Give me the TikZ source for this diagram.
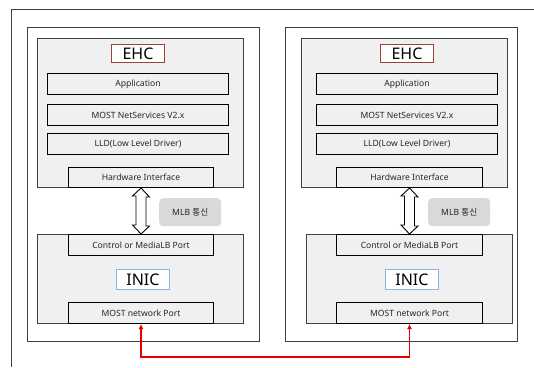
\documentclass[tikz,border=0pt]{standalone}
\usepackage{fontspec}
\setmainfont{Noto Sans}
\newfontfamily\krfont{Noto Sans CJK KR}
\usetikzlibrary{arrows.meta,calc}
\definecolor{boxgray}{HTML}{F0F0F0}
\definecolor{mlbgray}{HTML}{D9D9D9}
\definecolor{ehcred}{HTML}{A0403C}
\definecolor{inicblue}{HTML}{8DB3E2}
\definecolor{framegray}{HTML}{404040}
\tikzset{
  panel/.style={draw=framegray, line width=0.9pt, fill=white, anchor=north west, inner sep=0pt},
  chip/.style={draw=framegray, line width=0.8pt, fill=boxgray, anchor=north west, inner sep=0pt},
  layer/.style={draw=black, line width=1pt, fill=boxgray, anchor=north west, inner sep=0pt,
    font=\fontsize{8.6}{9}\selectfont, text=black!85},
  ehctitle/.style={draw=ehcred, line width=0.9pt, fill=white, anchor=north west, inner sep=0pt,
    font=\fontsize{16}{17}\selectfont},
  inictitle/.style={draw=inicblue, line width=0.9pt, fill=white, anchor=north west, inner sep=0pt,
    font=\fontsize{16}{17}\selectfont},
  mlb/.style={fill=mlbgray, rounded corners=4pt, anchor=north west, inner sep=0pt,
    font=\fontsize{8.6}{9}\selectfont, text=black!85},
  dblarrow/.style={draw=black, line width=0.9pt, fill=white},
  redlink/.style={draw={rgb,255:red,230;green,0;blue,0}, line width=1.3pt, {Latex[length=5pt,width=5pt]}-{Latex[length=5pt,width=5pt]}}
}
\begin{document}
\begin{tikzpicture}[x=1pt,y=-1pt]
\useasboundingbox (0,0) rectangle (534,367);
\fill[white] (0,0) rectangle (534,367);
% outer frame (clipped)
\coordinate (fbl) at (11,367);
\coordinate (ftl) at (11,9);
\coordinate (ftr) at (534,9);
\draw[framegray, line width=1pt] (fbl) -- (ftl) -- (ftr);

% ---------- left panel ----------
\node[panel, minimum width=232pt, minimum height=314pt] (pL) at (27,27) {};
\node[chip, minimum width=206pt, minimum height=149pt] (ehcL) at (37,38) {};
\node[ehctitle, minimum width=53pt, minimum height=18pt] (ehctL) at (111,44) {EHC};
\node[layer, minimum width=181pt, minimum height=21pt] (appL) at (47,73) {Application};
\node[layer, minimum width=181pt, minimum height=21pt] (nsL) at (47,104) {MOST NetServices V2.x};
\node[layer, minimum width=181pt, minimum height=21pt] (lldL) at (47,133) {LLD(Low Level Driver)};
\node[layer, minimum width=145pt, minimum height=20pt] (hwL) at (68,167) {Hardware Interface};
\node[chip, minimum width=206pt, minimum height=89pt] (inicL) at (37,234) {};
\node[layer, minimum width=145pt, minimum height=21pt] (ctlL) at (68,234) {Control or MediaLB Port};
\node[inictitle, minimum width=53pt, minimum height=20pt] (initL) at (116,269) {INIC};
\node[layer, minimum width=145pt, minimum height=21pt] (mnpL) at (68,302) {MOST network Port};
\node[mlb, minimum width=62pt, minimum height=28pt] (mlbL) at (159,198) {MLB {\krfont 통신}};
\draw[dblarrow] ($(hwL.south)+(0,0)$) -- ++(8.5,9) -- ++(-3.5,0) -- ++(0,29) -- ++(3.5,0)
  -- ($(ctlL.north)$) -- ++(-8.5,-9) -- ++(3.5,0) -- ++(0,-29) -- ++(-3.5,0) -- cycle;

% ---------- right panel ----------
\node[panel, minimum width=232pt, minimum height=314pt] (pR) at (285,27) {};
\node[chip, minimum width=206pt, minimum height=149pt] (ehcR) at (301,38) {};
\node[ehctitle, minimum width=53pt, minimum height=18pt] (ehctR) at (380,44) {EHC};
\node[layer, minimum width=181pt, minimum height=21pt] (appR) at (316,73) {Application};
\node[layer, minimum width=181pt, minimum height=21pt] (nsR) at (316,104) {MOST NetServices V2.x};
\node[layer, minimum width=181pt, minimum height=21pt] (lldR) at (316,133) {LLD(Low Level Driver)};
\node[layer, minimum width=146pt, minimum height=20pt] (hwR) at (336,167) {Hardware Interface};
\node[chip, minimum width=206pt, minimum height=89pt] (inicR) at (306,234) {};
\node[layer, minimum width=146pt, minimum height=21pt] (ctlR) at (336,234) {Control or MediaLB Port};
\node[inictitle, minimum width=53pt, minimum height=20pt] (initR) at (385,269) {INIC};
\node[layer, minimum width=146pt, minimum height=21pt] (mnpR) at (336,302) {MOST network Port};
\node[mlb, minimum width=62pt, minimum height=28pt] (mlbR) at (428,198) {MLB {\krfont 통신}};
\draw[dblarrow] ($(hwR.south)+(0,0)$) -- ++(8.5,9) -- ++(-3.5,0) -- ++(0,29) -- ++(3.5,0)
  -- ($(ctlR.north)$) -- ++(-8.5,-9) -- ++(3.5,0) -- ++(0,-29) -- ++(-3.5,0) -- cycle;

% ---------- MOST ring link ----------
\draw[redlink] (mnpL.south) -- ++(0,33) -| (mnpR.south);
\end{tikzpicture}
\end{document}
